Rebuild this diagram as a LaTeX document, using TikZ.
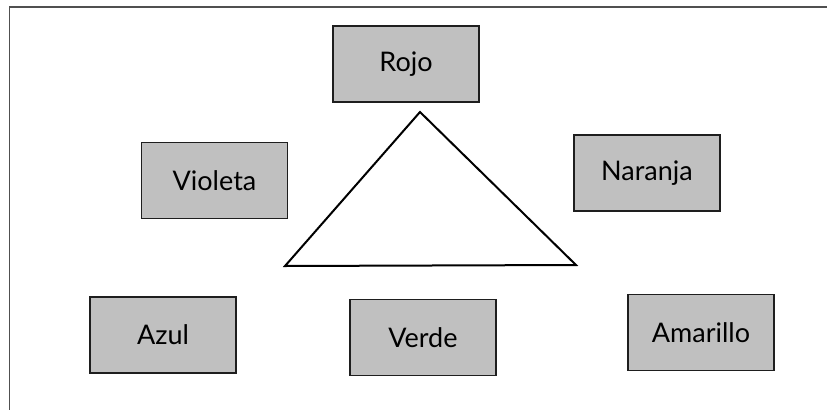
\documentclass[tikz,border=0pt]{standalone}
\usepackage{fontspec}
\setmainfont{Lato}
\usepackage{xcolor}
\definecolor{boxgray}{HTML}{C0C0C0}
\definecolor{edge}{HTML}{1E1E1E}
\definecolor{frame}{HTML}{505050}
\usepackage{tikz}
\usetikzlibrary{positioning}
\tikzset{
  colorbox/.style={draw=edge,fill=boxgray,line width=1.1pt,
                   minimum width=146pt,minimum height=76pt,inner sep=0pt,
                   font=\fontsize{27}{32}\selectfont},
  tri/.style     ={draw=black,line width=2pt,line join=miter},
}

\begin{document}
\begin{tikzpicture}[x=1pt,y=-1pt]
\useasboundingbox (0,0) rectangle (827,410);
% frame (top and left edges only)
\draw[frame,line width=2pt] (9,7) -- (827,7);
\draw[frame,line width=1pt] (9,7) -- (9,410);

%================= colour boxes
\foreach \x/\y/\nm in {406/64/Rojo, 214.5/180.5/Violeta, 647/173/Naranja,
                       163/335/Azul, 423/337.5/Verde, 701/332.5/Amarillo}
 {\node[colorbox] (\nm) at (\x,\y) {\nm};}

%================= triangle
\coordinate (apex)  at (420,112);
\coordinate (baseL) at (285,266);
\coordinate (baseR) at (576,265);
\draw[tri] (apex) -- (baseR) -- (baseL) -- cycle;
\end{tikzpicture}
\end{document}
